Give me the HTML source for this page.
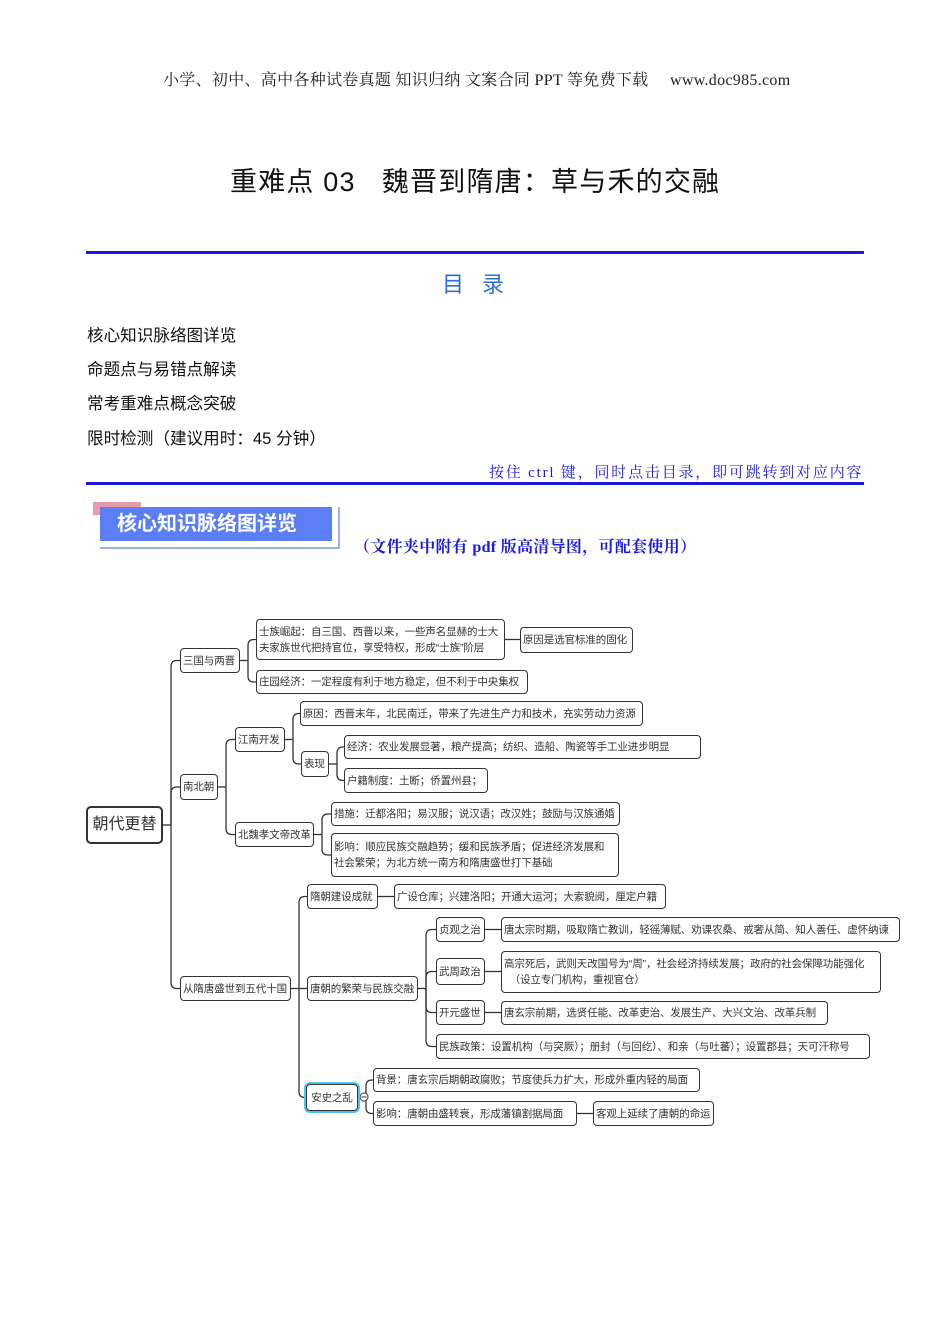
<!DOCTYPE html>
<html><head><meta charset="utf-8"><style>
body{margin:0;background:#fff;}
#pg{position:relative;width:950px;height:1344px;overflow:hidden;font-family:"Liberation Serif","Noto Serif CJK SC",serif;}
.t{position:absolute;white-space:nowrap;}
.b{position:absolute;box-sizing:border-box;border:1.5px solid #333;border-radius:4px;background:#fff;font-family:"Liberation Sans","Noto Sans CJK SC",sans-serif;font-size:10.5px;letter-spacing:-0.1px;color:#333;display:flex;align-items:center;padding:0 2px;line-height:16px;white-space:nowrap;overflow:hidden;}
svg{position:absolute;left:0;top:0;}
</style></head><body><div id="pg">
<div class="t" style="left:163px;top:67px;font-size:16px;color:#222;letter-spacing:0.3px;">小学、初中、高中各种试卷真题&nbsp;知识归纳&nbsp;文案合同&nbsp;PPT 等免费下载&nbsp;&nbsp;&nbsp;&nbsp;&nbsp;www.doc985.com</div>
<div class="t" style="left:230px;top:160px;font-size:27px;color:#111;font-family:'Liberation Sans','Noto Sans CJK SC',sans-serif;letter-spacing:1.2px;">重难点 03&nbsp;&nbsp;&nbsp;魏晋到隋唐：草与禾的交融</div>
<div style="position:absolute;left:86px;top:251px;width:778px;height:3px;background:#1a1adf;"></div>
<div class="t" style="left:442px;top:267px;font-size:22px;color:#2b6fd6;letter-spacing:18px;font-family:'Liberation Sans','Noto Sans CJK SC',sans-serif;">目录</div>
<div class="t" style="left:87px;top:322px;font-size:16.6px;color:#111;font-family:'Liberation Sans','Noto Sans CJK SC',sans-serif;">核心知识脉络图详览</div>
<div class="t" style="left:87px;top:356px;font-size:16.6px;color:#111;font-family:'Liberation Sans','Noto Sans CJK SC',sans-serif;">命题点与易错点解读</div>
<div class="t" style="left:87px;top:390px;font-size:16.6px;color:#111;font-family:'Liberation Sans','Noto Sans CJK SC',sans-serif;">常考重难点概念突破</div>
<div class="t" style="left:87px;top:425px;font-size:16.6px;color:#111;font-family:'Liberation Sans','Noto Sans CJK SC',sans-serif;">限时检测（建议用时：45 分钟）</div>
<div class="t" style="left:489px;top:461px;font-size:15px;color:#1a1adf;letter-spacing:1.8px;">按住 ctrl 键，同时点击目录，即可跳转到对应内容</div>
<div style="position:absolute;left:86px;top:482px;width:778px;height:3px;background:#1a1adf;"></div>
<div style="position:absolute;left:93px;top:502px;width:48px;height:13px;background:#e89aa8;"></div>
<div style="position:absolute;left:100px;top:507px;width:238px;height:40px;border-right:2px solid #9bb0f0;border-bottom:2px solid #9bb0f0;"></div>
<div style="position:absolute;left:100px;top:507px;width:232px;height:34px;background:#5b7ef7;color:#fff;font-weight:bold;font-size:20px;font-family:'Liberation Sans','Noto Sans CJK SC',sans-serif;line-height:34px;padding-left:17px;box-sizing:border-box;">核心知识脉络图详览</div>
<div class="t" style="left:354px;top:534px;font-size:16px;color:#1a1adf;font-weight:bold;letter-spacing:0.3px;">（文件夹中附有 pdf 版高清导图，可配套使用）</div>
<svg width="950" height="1344" id="sv"></svg>
<div id="boxes"></div>
</div>
<script>
var B={
r:[86,806,163,844,"朝代更替"],
a:[180,648,240,673,"三国与两晋"],
a1:[256,619,505,660,"士族崛起：自三国、西晋以来，一些声名显赫的士大<br>夫家族世代把持官位，享受特权，形成“士族”阶层"],
a1a:[520,627,633,653,"原因是选官标准的固化"],
a2:[256,670,528,694,"庄园经济：一定程度有利于地方稳定，但不利于中央集权"],
b:[180,774,218,800,"南北朝"],
b1:[235,727,285,752,"江南开发"],
b1a:[300,701,643,726,"原因：西晋末年，北民南迁，带来了先进生产力和技术，充实劳动力资源"],
b1b:[301,751,329,777,"表现"],
b1b1:[344,735,701,759,"经济：农业发展显著，粮产提高；纺织、造船、陶瓷等手工业进步明显"],
b1b2:[344,768,488,793,"户籍制度：土断；侨置州县；"],
b2:[235,822,314,847,"北魏孝文帝改革"],
b2a:[331,802,620,826,"措施：迁都洛阳；易汉服；说汉语；改汉姓；鼓励与汉族通婚"],
b2b:[331,833,619,877,"影响：顺应民族交融趋势；缓和民族矛盾；促进经济发展和<br>社会繁荣；为北方统一南方和隋唐盛世打下基础"],
c:[180,976,291,1001,"从隋唐盛世到五代十国"],
c1:[307,884,378,909,"隋朝建设成就"],
c1a:[394,884,666,909,"广设仓库；兴建洛阳；开通大运河；大索貌阅，厘定户籍"],
c2:[307,976,418,1001,"唐朝的繁荣与民族交融"],
c2a:[436,917,485,942,"贞观之治"],
c2a1:[501,917,900,942,"唐太宗时期，吸取隋亡教训，轻徭薄赋、劝课农桑、戒奢从简、知人善任、虚怀纳谏"],
c2b:[436,958,485,985,"武周政治"],
c2b1:[501,951,881,993,"高宗死后，武则天改国号为“周”，社会经济持续发展；政府的社会保障功能强化<br>&nbsp;&nbsp;（设立专门机构，重视官仓）"],
c2c:[436,1000,485,1025,"开元盛世"],
c2c1:[501,1001,828,1025,"唐玄宗前期，选贤任能、改革吏治、发展生产、大兴文治、改革兵制"],
c2d:[436,1034,870,1059,"民族政策：设置机构（与突厥）；册封（与回纥）、和亲（与吐蕃）；设置郡县；天可汗称号"],
c3:[306,1084,358,1111,"安史之乱"],
c3a:[373,1068,700,1092,"背景：唐玄宗后期朝政腐败；节度使兵力扩大，形成外重内轻的局面"],
c3b:[373,1101,577,1126,"影响：唐朝由盛转衰，形成藩镇割据局面"],
c3b1:[593,1101,714,1126,"客观上延续了唐朝的命运"]
};
var E=[["r","a","b","c"],["a","a1","a2"],["a1","a1a"],["b","b1","b2"],["b1","b1a","b1b"],["b1b","b1b1","b1b2"],["b2","b2a","b2b"],["c","c1","c2","c3"],["c1","c1a"],["c2","c2a","c2b","c2c","c2d"],["c2a","c2a1"],["c2b","c2b1"],["c2c","c2c1"],["c3","c3a","c3b"],["c3b","c3b1"]];
var h="";
for(var k in B){var v=B[k];var st="left:"+v[0]+"px;top:"+v[1]+"px;width:"+(v[2]-v[0])+"px;height:"+(v[3]-v[1])+"px;";
if(k=="r")st+="font-size:16px;letter-spacing:0;justify-content:center;border-width:2px;border-radius:5px;";
if(k=="c3")st+="border:1.5px solid #333;box-shadow:0 0 0 2px #4fc3f0;justify-content:center;";
h+='<div class="b" style="'+st+'">'+v[4]+'</div>';}
document.getElementById("boxes").innerHTML=h;
var p="";
E.forEach(function(e){var P=B[e[0]];var py=(P[1]+P[3])/2;var px=P[2];
var kids=e.slice(1);
if(kids.length==1){var C=B[kids[0]];p+='<path d="M'+px+' '+py+' H'+C[0]+'"/>';return;}
var sx=px+8;p+='<path d="M'+px+' '+py+' H'+sx+'"/>';
kids.forEach(function(k){var C=B[k];var cy=(C[1]+C[3])/2;var r=Math.min(6,Math.abs(cy-py));
var d=cy<py?-1:1;if(Math.abs(cy-py)<1){p+='<path d="M'+sx+' '+py+' H'+C[0]+'"/>';return;}
p+='<path d="M'+sx+' '+py+' V'+(cy-d*r)+' Q'+sx+' '+cy+' '+(sx+r)+' '+cy+' H'+C[0]+'"/>';});});
document.getElementById("sv").innerHTML='<g fill="none" stroke="#333" stroke-width="1.3">'+p+'</g><circle cx="364" cy="1097" r="4" fill="#fff" stroke="#333"/><line x1="361.5" y1="1097" x2="366.5" y2="1097" stroke="#333"/>';
</script>
</body></html>
